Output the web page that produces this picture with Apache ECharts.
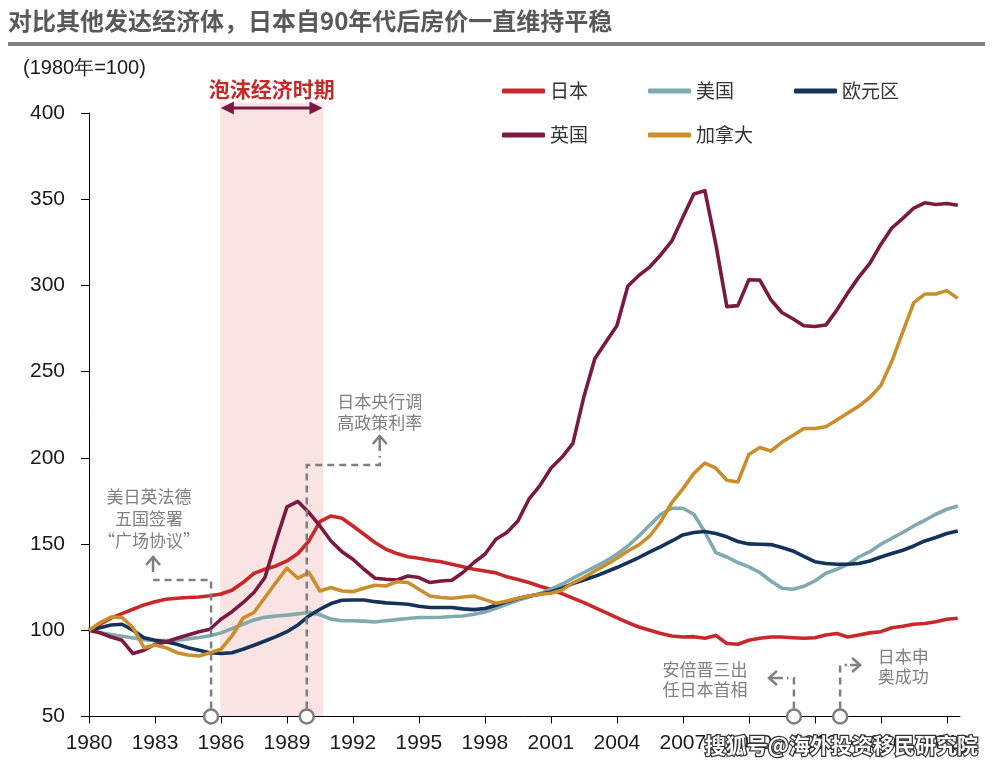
<!DOCTYPE html>
<html><head><meta charset="utf-8">
<script src="https://cdn.jsdelivr.net/npm/echarts@6/dist/echarts.min.js"></script>
<style>html,body{margin:0;padding:0;background:#fff}#c{width:1001px;height:767px}</style>
</head><body><div id="c"></div>
<script>
// ---------- DATA ----------
const years = [1980,1980.5,1981,1981.5,1982,1982.5,1983,1983.5,1984,1984.5,1985,1985.5,1986,1986.5,1987,1987.5,1988,1988.5,1989,1989.5,
1990,1990.5,1991,1991.5,1992,1992.5,1993,1993.5,1994,1994.5,1995,1995.5,1996,1996.5,1997,1997.5,1998,1998.5,1999,1999.5,
2000,2000.5,2001,2001.5,2002,2002.5,2003,2003.5,2004,2004.5,2005,2005.5,2006,2006.5,2007,2007.5,2008,2008.5,2009,2009.5,
2010,2010.5,2011,2011.5,2012,2012.5,2013,2013.5,2014,2014.5,2015,2015.5,2016,2016.5,2017,2017.5,2018,2018.5,2019,2019.5];

const japan = [100,103.5,107,109.7,112.2,114.7,116.6,118,118.6,119,119.3,120,121,123.2,127.7,133,135.4,137.3,140.2,144.5,
151.8,163,166.3,165,160.5,155.7,150.9,147,144.5,142.6,141.8,140.6,139.7,138.3,136.8,135.4,134.4,133.3,131,129.4,
127.7,125.5,123.6,121.3,118.6,116,113.2,110.3,107.4,104.4,101.9,100,98.1,96.7,96.1,96.3,95.4,97,92.3,91.9,
94.2,95.4,96.1,96.1,95.7,95.4,95.7,97.3,98.1,96.1,97.3,98.5,99.2,101.5,102.3,103.5,103.9,105,106.4,107];

const usa = [100,98.5,97.5,96.5,95.5,94.5,94,94,94.2,95,95.8,96.8,98.5,101,103.5,106,107.5,108.3,108.8,109.5,
110.5,109,106.5,105.5,105.5,105.3,104.8,105.5,106.2,106.8,107.4,107.4,107.6,108,108.3,109.3,110.6,112.8,115,117.4,
119.3,121.3,123.8,126.7,130.2,133.5,136.8,140.2,144.1,148.9,154.7,161.1,167.3,170.8,170.8,167.3,157,145,142.5,139.3,
136.8,133.5,128.6,124.4,123.8,125.5,128.6,133.1,135.4,138.3,142.5,145.6,149.9,153.4,156.7,160.5,163.8,167.3,170.2,172.1];

const euro = [100,101.5,103.1,103.5,100,95.7,94.2,93.4,91.9,89.9,88.4,87,86.5,87,89,91.3,93.8,96.3,99.2,103.1,
108.3,112.2,115.5,117.4,117.6,117.6,116.6,115.9,115.5,115.1,113.9,113.2,113.2,113.2,112.4,112,112.6,114.5,116.6,118.4,
119.9,120.9,122.2,124.4,127.1,129.2,131.3,133.8,136.4,139.3,142.2,145.5,148.5,151.8,155.3,156.7,157.3,156.1,154.2,151.5,
150.1,149.9,149.7,148,146,142.9,139.8,138.7,138.3,138.3,138.7,140.2,142.5,144.5,146.4,148.9,151.8,153.8,156.1,157.6];

const uk = [100,98.6,96.1,94.2,86.5,88.4,91.9,93.2,95.4,97.3,99.2,100.6,106.4,110.8,116,121.9,130.6,151.8,171.6,174.7,
168.3,160.5,151.8,145.6,141.2,135.4,130.2,129.6,129.2,131.5,130.6,127.7,128.6,129,133.5,139.3,144.1,152.8,156.7,163.4,
176,183.9,194,200.3,208.4,235.5,257.6,267.2,276.6,299.7,305.8,310.8,317.8,325.8,339.5,353,355,323.8,287.7,288.3,
303.3,303.1,291.7,284.3,280.7,276.6,276.2,277,285.7,295.7,304.8,312.8,323.8,333.3,338.9,344.9,347.9,346.9,347.5,346.5];

const canada = [100,104.4,107.7,107.4,101.5,89.9,91.5,89.9,87,85.7,85.1,87,89,96.7,107,110.3,119,127.7,136,130.2,
133.5,122.8,124.8,122.8,122.4,124.4,126.1,125.7,128.2,127.7,123.8,119.9,119,118.6,119.3,119.9,117.8,115.7,117,118.6,
119.9,120.9,121.5,123.2,127.5,130.6,134.4,137.9,141.8,146,149.5,154.7,163.1,174.1,182,191,197,194,187,186,
202,206,204,209,213,217,217,218,222,226,230,235,242,256,273,290,295,295,297,292.5];

const seriesNames = ['日本', '美国', '欧元区', '英国', '加拿大'];
const xTickYears = [1980,1983,1986,1989,1992,1995,1998,2001,2004,2007,2010,2013,2016,2019];
const bubblePeriod = [1985.95, 1990.66];
const bubbleLabel = '泡沫经济时期';
const eventYears = [1985.55, 1989.9, 2012.05, 2014.15];
const eventLabels = [['美日英法德', '五国签署', '“广场协议”'], ['日本央行调', '高政策利率'], ['安倍晋三出', '任日本首相'], ['日本申', '奥成功']];
const titleText = '对比其他发达经济体，日本自90年代后房价一直维持平稳';
const unitText = '(1980年=100)';
const watermarkText = '搜狐号@海外投资移民研究院';

// ---------- STYLE ----------
const seriesColors = ['#C8282A', '#80AAAE', '#15335A', '#7A1A40', '#C98F2C'];
const seriesValues = [japan, usa, euro, uk, canada];
const CJK = '"Noto Sans CJK SC", sans-serif';
const LAT = '"Liberation Sans", Arial, sans-serif';
const gray = '#7f7f7f';

const chart = echarts.init(document.getElementById('c'));
chart.setOption({
  animation: false,
  grid: { left: 89, right: 41, top: 113, bottom: 50.5 },
  xAxis: {
    type: 'value', min: 1980, max: 2019.6,
    axisLine: { lineStyle: { color: '#000', width: 1 } },
    axisTick: { customValues: xTickYears, length: 7, lineStyle: { color: '#000' } },
    axisLabel: { customValues: xTickYears, formatter: v => String(v), fontSize: 21, color: '#1a1a1a', margin: 16, fontFamily: LAT },
    splitLine: { show: false }
  },
  yAxis: {
    type: 'value', min: 50, max: 400, interval: 50,
    axisLine: { show: true, lineStyle: { color: '#000', width: 1 } },
    axisTick: { show: true, length: 8, lineStyle: { color: '#000' } },
    axisLabel: { fontSize: 21, color: '#1a1a1a', margin: 24, fontFamily: LAT },
    splitLine: { show: false }
  },
  legend: {
    left: 502, top: 78, width: 430, padding: 0,
    itemWidth: 43, itemHeight: 5, icon: 'roundRect', itemGap: 18,
    textStyle: { fontSize: 19, color: '#333', width: 80, lineHeight: 26, fontFamily: CJK },
    data: seriesNames
  },
  series: seriesNames.map((name, i) => ({
    name, type: 'line', symbol: 'none', showSymbol: false,
    data: years.map((y, j) => [y, seriesValues[i][j]]),
    lineStyle: { width: 3.6, color: seriesColors[i], join: 'round' },
    itemStyle: { color: seriesColors[i] },
    z: 2 + i
  }))
});

// ---------- ANNOTATIONS (positioned through the chart's scales) ----------
const P = (x, y) => chart.convertToPixel({ gridIndex: 0 }, [x, y]);
const axisY = P(1980, 50)[1];
const topY = P(1980, 400)[1];
const bx0 = P(bubblePeriod[0], 50)[0], bx1 = P(bubblePeriod[1], 50)[0];
const g = [];

// title
g.push({ type: 'text', left: 8, top: 9, style: { text: titleText, fontSize: 24, fontWeight: 'bold', fill: '#595959', fontFamily: CJK } , z: 10});
g.push({ type: 'rect', shape: { x: 8, y: 42, width: 977, height: 4 }, style: { fill: '#808080' }, z: 10 });
// unit
g.push({ type: 'text', x: 23, y: 68, style: { text: unitText, fontSize: 20, fill: '#1a1a1a', fontFamily: LAT, verticalAlign: 'middle' }, z: 10 });

// bubble shading + arrow + label
const shadeTop = topY - 10;
g.push({ type: 'rect', shape: { x: bx0, y: shadeTop, width: bx1 - bx0, height: axisY - shadeTop - 0.5 }, style: { fill: '#FAE3E3' }, z: 0, zlevel: 0 });
const ay = topY - 5;
const maroon = '#7A1A40';
g.push({ type: 'line', shape: { x1: bx0 + 8, y1: ay, x2: bx1 - 8, y2: ay }, style: { stroke: maroon, lineWidth: 3 }, z: 10 });
g.push({ type: 'polygon', shape: { points: [[bx0 + 1, ay], [bx0 + 14, ay - 6.5], [bx0 + 14, ay + 6.5]] }, style: { fill: maroon }, z: 10 });
g.push({ type: 'polygon', shape: { points: [[bx1 - 1, ay], [bx1 - 14, ay - 6.5], [bx1 - 14, ay + 6.5]] }, style: { fill: maroon }, z: 10 });
g.push({ type: 'text', x: (bx0 + bx1) / 2, y: ay - 19, style: { text: bubbleLabel, fontSize: 21, fontWeight: 'bold', fill: '#C8282A', fontFamily: CJK, align: 'center', verticalAlign: 'middle' }, z: 10 });

// events: elbow height above axis, horizontal offset, arrow direction, text offset
const eventLayout = [
  { up: 136.5, dx: -58, dir: 'up', tdx: -62, tys: [-219.5, -197.5, -175.5] },
  { up: 251.5, dx: 73, dir: 'up', tdx: 73, tys: [-314.5, -293.5] },
  { up: 38.5, dx: -7, dir: 'left', tdx: -89, tys: [-46.5, -26.5] },
  { up: 51.5, dx: 7, dir: 'right', tdx: 63, tys: [-59.5, -39.5] }
];
const dashStyle = { stroke: gray, lineWidth: 2.5, lineDash: [7, 5], fill: null };
const arrowStyle = { stroke: gray, lineWidth: 2.5, fill: null, lineJoin: 'miter' };
eventYears.forEach((yr, i) => {
  const L = eventLayout[i];
  const cx = P(yr, 50)[0];
  const ey = axisY - L.up;
  const ex = cx + L.dx;
  const pts = [[cx, axisY - 8], [cx, ey], [ex, ey]];
  if (i === 1) pts.push([ex, ey - 9]);
  g.push({ type: 'polyline', shape: { points: pts }, style: dashStyle, z: 20 });
  if (L.dir === 'up') {
    const base = i === 0 ? ey - 8 : ey - 14;
    g.push({ type: 'line', shape: { x1: ex, y1: base, x2: ex, y2: base - 15 }, style: arrowStyle, z: 20 });
    g.push({ type: 'polyline', shape: { points: [[ex - 7, base - 7], [ex, base - 15], [ex + 7, base - 7]] }, style: arrowStyle, z: 20 });
  } else if (L.dir === 'left') {
    const bx = ex - 4;
    g.push({ type: 'line', shape: { x1: bx, y1: ey, x2: bx - 13, y2: ey }, style: arrowStyle, z: 20 });
    g.push({ type: 'polyline', shape: { points: [[bx - 6, ey - 7], [bx - 14, ey], [bx - 6, ey + 7]] }, style: arrowStyle, z: 20 });
  } else {
    const bx = ex + 3;
    g.push({ type: 'line', shape: { x1: bx, y1: ey, x2: bx + 9, y2: ey }, style: arrowStyle, z: 20 });
    g.push({ type: 'polyline', shape: { points: [[bx + 2, ey - 7], [bx + 10, ey], [bx + 2, ey + 7]] }, style: arrowStyle, z: 20 });
  }
  g.push({ type: 'circle', shape: { cx, cy: axisY, r: 7 }, style: { fill: '#fff', stroke: gray, lineWidth: 2.5 }, z: 30 });
  eventLabels[i].forEach((t, k) => {
    g.push({ type: 'text', x: cx + L.tdx, y: axisY + L.tys[k], style: { text: t, fontSize: 17, fill: gray, fontFamily: CJK, align: 'center', verticalAlign: 'middle' }, z: 20 });
  });
});

// watermark
g.push({ type: 'text', x: 978, y: 745, style: { text: watermarkText, fontSize: 21, fontWeight: 'bold', fill: '#fff', stroke: '#333', lineWidth: 2.5, strokeFirst: true, fontFamily: CJK, align: 'right', verticalAlign: 'middle' }, z: 50 });

chart.setOption({ graphic: { elements: g } });
</script>
</body></html>
